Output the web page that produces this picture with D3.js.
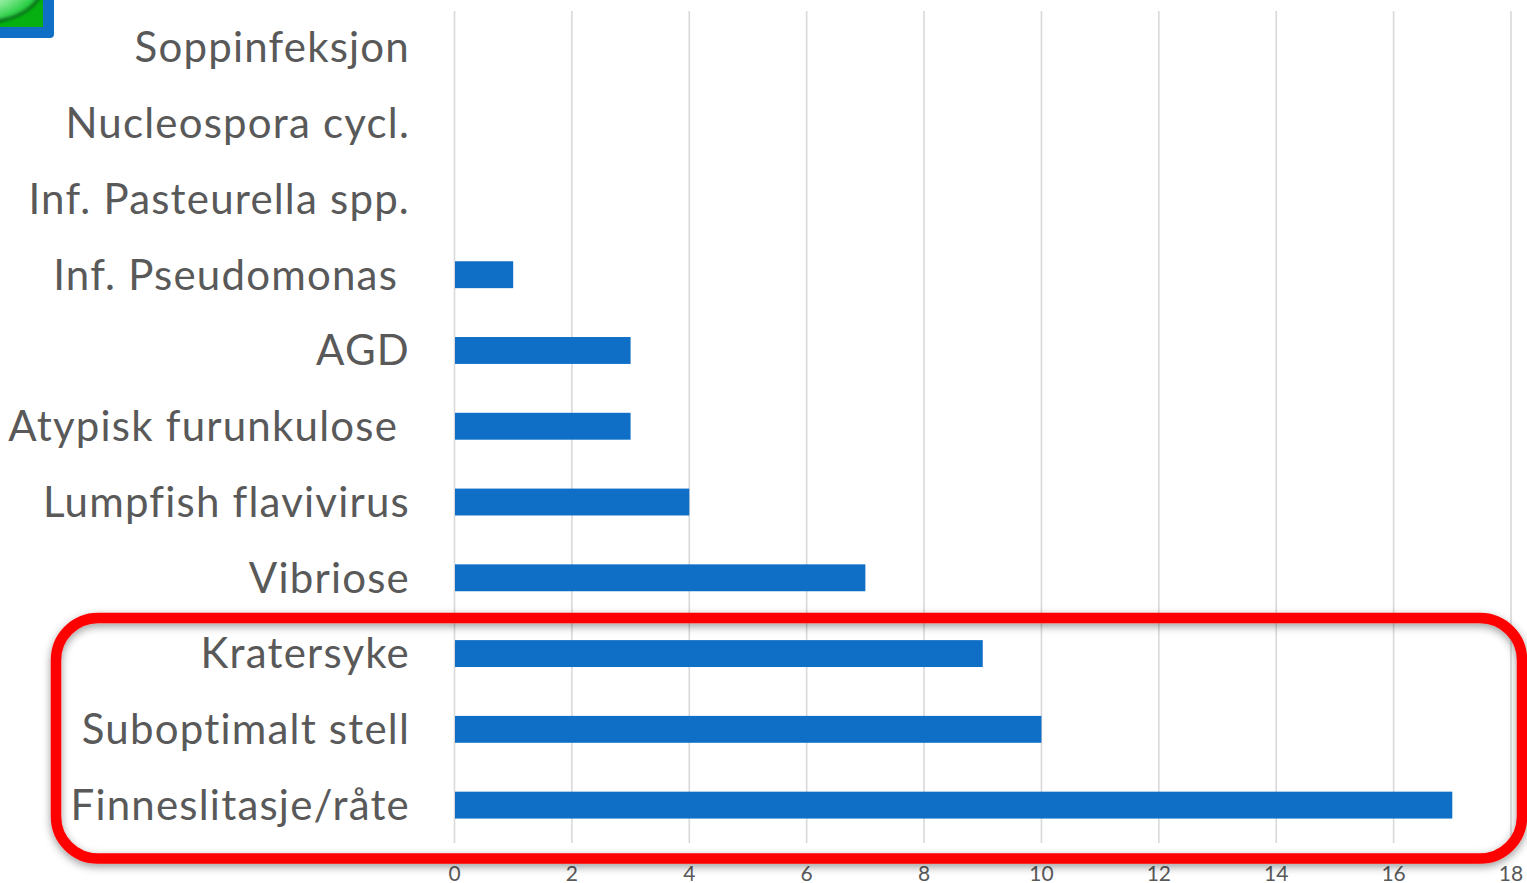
<!DOCTYPE html>
<html>
<head>
<meta charset="utf-8">
<script src="https://cdn.jsdelivr.net/npm/d3@7"></script>
<style>
html,body{margin:0;padding:0;background:#fff;overflow:hidden}
text{font-family:Lato,"Open Sans",sans-serif;fill:#595959}
.cat text{white-space:pre;letter-spacing:1.2px;font-variant-ligatures:none}
</style>
</head>
<body>
<div id="chart"></div>
<script>
// top to bottom, trailing spaces are in the original labels
const categories = ["Soppinfeksjon","Nucleospora cycl.","Inf. Pasteurella spp.","Inf. Pseudomonas ","AGD","Atypisk furunkulose ","Lumpfish flavivirus","Vibriose","Kratersyke","Suboptimalt stell","Finneslitasje/råte"];
const values = [0,0,0,1,3,3,4,7,9,10,17];
const xticks = [0,2,4,6,8,10,12,14,16,18];

const W = 1527, H = 883;
const svg = d3.select("#chart").append("svg").attr("width",W).attr("height",H).style("display","block");

const X = d3.scaleLinear().domain([0,18]).range([454.5,1511]);
const Y = d3.scaleBand().domain(categories).range([9.5,843]).paddingInner(0.645).paddingOuter(0.3225);

const defs = svg.append("defs");
const shadow = defs.append("filter").attr("id","shadow").attr("x","-5%").attr("y","-10%").attr("width","110%").attr("height","125%");
shadow.append("feDropShadow").attr("dx",0).attr("dy",3).attr("stdDeviation",4).attr("flood-color","#000").attr("flood-opacity",0.4);
const leafblur = defs.append("filter").attr("id","leafblur");
leafblur.append("feGaussianBlur").attr("stdDeviation",1.5);
const leaf = defs.append("radialGradient").attr("id","leaf").attr("cx",0.35).attr("cy",0.3).attr("r",0.75);
leaf.append("stop").attr("offset","0%").attr("stop-color","#e4fbe8");
leaf.append("stop").attr("offset","55%").attr("stop-color","#7fe88f");
leaf.append("stop").attr("offset","100%").attr("stop-color","#14c832");

// logo corner cut off by the page edge
svg.append("rect").attr("x",-20).attr("y",-20).attr("width",74).attr("height",58).attr("rx",4).style("fill","#0f6fc6");
svg.append("clipPath").attr("id","logoclip").append("rect").attr("x",0).attr("y",0).attr("width",43).attr("height",27);
const logo = svg.append("g").attr("clip-path","url(#logoclip)");
logo.append("rect").attr("x",0).attr("y",0).attr("width",43).attr("height",27).style("fill","#06b010");
logo.append("ellipse").attr("cx",0).attr("cy",-4).attr("rx",43).attr("ry",24)
	.attr("transform","rotate(-14)")
	.style("fill","url(#leaf)").style("stroke","#0a5c1a").style("stroke-width",3).attr("filter","url(#leafblur)");

// gridlines + value axis
const xAxis = svg.append("g").attr("transform","translate(-0.5,843)")
	.call(d3.axisBottom(X).tickValues(xticks).tickSize(-832).tickPadding(23));
xAxis.select(".domain").remove();
xAxis.selectAll("line").style("stroke","#d9d9d9").style("stroke-width",1.6);
xAxis.selectAll("text").style("font-size","21px").style("fill","#595959");

// bars
svg.selectAll(".bar").data(values).enter().append("rect")
	.attr("class","bar")
	.attr("x",X(0)+0.5)
	.attr("y",(d,i)=>Y(categories[i]))
	.attr("width",d=>Math.max(0,X(d)-X(0)-0.5))
	.attr("height",Y.bandwidth())
	.style("fill","#0f6fc6");

// category labels
const yAxis = svg.append("g").attr("class","cat").attr("transform","translate(410,1)")
	.call(d3.axisLeft(Y).tickSize(0).tickPadding(0));
yAxis.select(".domain").remove();
yAxis.selectAll("text").style("font-size","42px").style("fill","#595959").attr("dy","0.33em");

// red highlight box
svg.append("rect").attr("x",56).attr("y",618).attr("width",1466).attr("height",240.5).attr("rx",42)
	.style("fill","none").style("stroke","#ff0000").style("stroke-width",10.5)
	.attr("filter","url(#shadow)");
</script>
</body>
</html>
